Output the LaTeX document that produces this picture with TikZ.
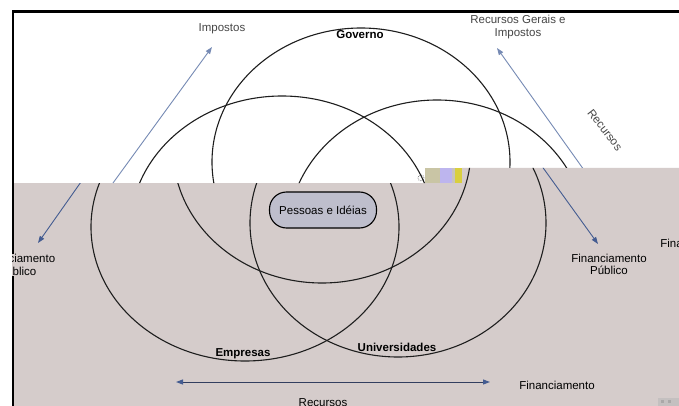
\documentclass[tikz,border=0pt]{standalone}
\usepackage{fontspec}
\setmainfont{Liberation Sans}
\usetikzlibrary{arrows.meta}
\definecolor{bggray}{RGB}{213,204,203}
\definecolor{pillfill}{RGB}{190,190,204}
\definecolor{arrowlight}{RGB}{118,138,180}
\definecolor{arrowdark}{RGB}{68,92,145}
\definecolor{linedark}{RGB}{50,62,95}
\definecolor{toptext}{RGB}{70,70,70}
\definecolor{ellline}{RGB}{30,30,30}
\definecolor{stripolive}{RGB}{201,197,165}
\definecolor{striplav}{RGB}{189,181,238}
\definecolor{stripgray}{RGB}{200,196,190}
\definecolor{stripyellow}{RGB}{217,207,63}
\definecolor{markgray}{RGB}{196,192,192}
\definecolor{markdark}{RGB}{170,168,168}
\begin{document}
\begin{tikzpicture}[x=1pt,y=-1pt,
  ell/.style={draw=ellline,line width=1.1pt},
  lbl/.style={font=\fontsize{11.5}{12.5}\selectfont,align=center,inner sep=0pt},
  boldlbl/.style={font=\fontsize{11.5}{12.5}\selectfont\bfseries,inner sep=0pt},
  arr/.style={-{Triangle[length=7pt,width=5pt]},line width=0.9pt}]
\useasboundingbox (0,0) rectangle (679,406);
\clip (0,0) rectangle (679,406);
\fill[white] (0,0) rectangle (679,406);
% gray lower panel
\fill[bggray] (13,183) -- (462,183) -- (462,168) -- (679,168) -- (679,406) -- (13,406) -- cycle;
% small colour strip
\fill[stripolive] (425,168) rectangle (440,183);
\fill[striplav] (440,168) rectangle (452,183);
\fill[stripgray] (452,168) rectangle (455,183);
\fill[stripyellow] (455,168) rectangle (462,183);
\draw[gray,densely dotted,line width=0.8pt] (421,178) circle[radius=3pt];
% tiny mark bottom right
\fill[markgray] (658,398) rectangle (679,406);
\fill[markdark] (661,400) rectangle (664,403);
\fill[markdark] (668,400) rectangle (671,403);
% upper part (white)
\begin{scope}
  \clip (0,0) -- (679,0) -- (679,168) -- (425,168) -- (425,183) -- (0,183) -- cycle;
  \draw[ell] (361,162) ellipse [x radius=149pt, y radius=134pt];
  \draw[ell] (282,230) ellipse [x radius=152pt, y radius=134pt];
  \draw[ell] (437,234) ellipse [x radius=149pt, y radius=134pt];
  \coordinate (impS) at (113,183);
  \coordinate (impT) at (212,47);
  \coordinate (rgS) at (584,170);
  \coordinate (rgT) at (497,48);
  \draw[arr,arrowlight] (impS) -- (impT);
  \draw[arr,arrowlight] (rgS) -- (rgT);
\end{scope}
% lower part (gray)
\begin{scope}
  \clip (13,183) -- (462,183) -- (462,168) -- (679,168) -- (679,406) -- (13,406) -- cycle;
  \draw[ell] (322,149) ellipse [x radius=149pt, y radius=134pt];
  \draw[ell] (245,227) ellipse [x radius=154pt, y radius=134pt];
  \draw[ell] (398,223) ellipse [x radius=148pt, y radius=134pt];
  \coordinate (fpLS) at (88,172);
  \coordinate (fpLT) at (38,243);
  \coordinate (fpRS) at (536,158);
  \coordinate (fpRT) at (598,244);
  \coordinate (hL) at (176,382);
  \coordinate (hR) at (490,382);
  \draw[arr,arrowdark] (fpLS) -- (fpLT);
  \draw[arr,arrowdark] (fpRS) -- (fpRT);
  \draw[line width=1pt,linedark,{Triangle[length=7pt,width=5pt,color=arrowdark]}-{Triangle[length=7pt,width=5pt,color=arrowdark]}] (hL) -- (hR);
\end{scope}
% frame lines
\coordinate (fTL) at (13,11.5);
\coordinate (fTR) at (679,11.5);
\coordinate (fBL) at (13,406);
\draw[line width=2.2pt,black] (fTR) -- (fTL) -- (fBL);
% labels
\node[lbl,text=toptext] (impostos) at (222,28.5) {Impostos};
\node[boldlbl] (governo) at (360,34.5) {Governo};
\node[lbl,text=toptext] (recgerais) at (518,27) {Recursos Gerais e\\Impostos};
\node[lbl,text=toptext,rotate=-52] (recursosR) at (605,130) {Recursos};
\node[draw=black,fill=pillfill,rounded corners=17pt,minimum width=107pt,minimum height=36pt,line width=1.1pt,font=\fontsize{11.5}{12.5}\selectfont,inner sep=0pt] (pessoas) at (323,210) {Pessoas e Idéias};
\begin{scope}
  \clip (12,240) rectangle (100,290);
  \node[lbl,fill=bggray,inner ysep=1pt] (finpubL) at (17.5,265) {Financiamento\\Público};
\end{scope}
\node[lbl] (finpubR) at (609,264.5) {Financiamento\\Público};
\node[lbl] (finpubX) at (698,250) {Financiamento\\Público};
\node[boldlbl] (empresas) at (243,353.5) {Empresas};
\node[boldlbl] (univ) at (397,347.5) {Universidades};
\node[lbl] (recursosB) at (323,402.5) {Recursos};
\node[lbl] (financ) at (557,385.5) {Financiamento};
\end{tikzpicture}
\end{document}
